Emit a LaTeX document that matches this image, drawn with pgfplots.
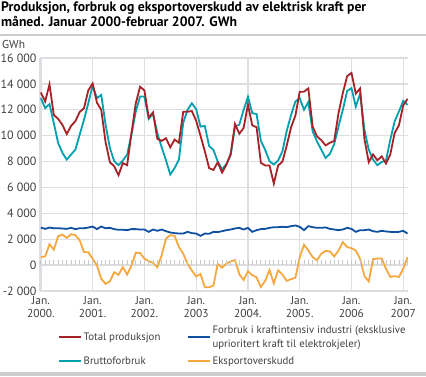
\documentclass[border=0pt]{standalone}
\usepackage{fontspec}
\setmainfont{PT Sans}
\usepackage{pgfplots}
\usepackage{pgfplotstable}
\pgfplotsset{compat=1.18}
\definecolor{cred}{RGB}{166,34,38}
\definecolor{cteal}{RGB}{0,160,176}
\definecolor{cblue}{RGB}{16,80,160}
\definecolor{corange}{RGB}{246,168,64}
\definecolor{cgrid}{RGB}{222,222,226}
\definecolor{ctick}{RGB}{200,200,204}
\definecolor{crule}{RGB}{205,205,205}
\pgfplotstableread{
m R T B O
0 13330 12900 2900 620
1 12650 12130 2800 675
2 13960 12440 2900 1610
3 11600 10970 2850 1190
4 11300 9440 2850 2230
5 10830 8670 2830 2360
6 10120 8150 2800 2100
7 10750 8540 2880 2390
8 11120 8920 2780 2310
9 11830 10080 2850 1920
10 12120 11230 2850 1010
11 13500 12510 2900 990
12 14030 13870 2980 490
13 12550 12900 2780 -30
14 12000 13150 2980 -1060
15 9500 10850 2850 -1450
16 7950 9050 2880 -1250
17 7630 8030 2780 -550
18 6950 7720 2730 -750
19 7880 8080 2730 -160
20 7720 8540 2700 -730
21 10200 10080 2780 -30
22 12500 11870 2780 960
23 13780 13030 2750 935
24 13500 13030 2750 490
25 11400 11300 2570 310
26 11800 11700 2750 180
27 9750 10200 2650 -160
28 9600 9100 2750 750
29 9800 8100 2620 2050
30 9100 7000 2520 2310
31 9700 7500 2470 2260
32 9450 8150 2440 1400
33 11850 11000 2440 880
34 11850 12000 2570 100
35 11900 12500 2470 -420
36 11150 12050 2440 -880
37 10000 10700 2260 -680
38 8800 10750 2440 -1710
39 7500 9200 2420 -1710
40 7350 8900 2570 -1580
41 7950 8000 2550 100
42 7150 7400 2620 -200
43 7750 7800 2700 130
44 8600 8500 2750 270
45 10900 10700 2830 400
46 10150 10850 2880 -700
47 10600 12000 2750 -1150
48 12400 13000 2880 -470
49 10800 11740 2570 -780
50 10650 11670 2700 -950
51 7900 9600 2780 -1690
52 7700 8900 2800 -1220
53 7700 8030 2880 -380
54 6300 7770 2930 -1400
55 7700 8080 2930 -400
56 8000 8800 2960 -730
57 9250 10380 2930 -1220
58 10650 11600 3010 -1080
59 11550 12640 3060 -980
60 13400 12900 2960 600
61 13400 12000 2700 1570
62 13650 12600 3010 1130
63 10700 10330 2930 620
64 9950 9560 2880 360
65 9650 8920 2880 880
66 9250 8280 2910 1100
67 9450 8590 2800 1060
68 9600 9360 2750 670
69 11750 10720 2700 1130
70 13300 12000 2750 1780
71 14600 13460 2880 1390
72 14850 13670 2800 1310
73 13250 12250 2570 1130
74 13650 13250 2700 490
75 9750 10460 2700 -850
76 7950 8920 2750 -1260
77 8550 8150 2620 460
78 8100 7720 2570 510
79 8400 7970 2650 510
80 7850 8080 2600 -280
81 8550 9690 2570 -920
82 10200 11100 2550 -850
83 10800 11870 2570 -920
84 12350 12690 2650 -280
85 12850 12380 2440 620
}\data
\begin{document}
\begin{tikzpicture}
\useasboundingbox (0,0) rectangle (426pt,376pt);
\fill[crule] (0,340.5pt) rectangle (426pt,342.5pt);
\fill[crule] (0,0) rectangle (426pt,4pt);
\node[anchor=north west, align=left, inner sep=0, font=\bfseries\fontsize{13.7}{14.5}\selectfont] at (1pt,374pt) {Produksjon, forbruk og eksportoverskudd av elektrisk kraft per\\måned. Januar 2000-februar 2007. GWh};
\node[anchor=base west, inner sep=0, font=\fontsize{11.5}{13}\selectfont, text=black!75] at (2pt,328pt) {GWh};
\begin{axis}[
  at={(40pt,85pt)}, anchor=south west,
  scale only axis, width=368pt, height=233pt,
  xmin=-0.2, xmax=85.1, ymin=-2000, ymax=16000,
  scaled ticks=false,
  axis x line*=bottom, axis y line*=left,
  x axis line style={draw=none},
  y axis line style={draw=cgrid, line width=2pt},
  major tick length=0pt,
  xtick={0,12,...,84},
  xticklabels={{Jan.\\2000.},{Jan.\\2001.},{Jan.\\2002.},{Jan.\\2003},{Jan.\\2004.},{Jan.\\2005.},{Jan.\\2006},{Jan.\\2007}},
  xticklabel style={align=center, font=\fontsize{11.5}{13}\selectfont, text=black!75, yshift=-2pt},
  ytick={-2000,0,2000,4000,6000,8000,10000,12000,14000,16000},
  yticklabels={-2 000,0,2 000,4 000,6 000,8 000,10 000,12 000,14 000,16 000},
  yticklabel style={font=\fontsize{12}{13}\selectfont, text=black!75, xshift=0pt},
  grid=major, major grid style={draw=cgrid, line width=1.3pt},
  legend style={at={(axis description cs:0.04,-0.13)}, anchor=north west, draw=none, fill=none,
    font=\fontsize{10.8}{14}\selectfont, text=black!75, cells={anchor=west, align=left},
    /tikz/every even column/.append style={column sep=4pt}, row sep=4pt},
  legend columns=2,
  legend image code/.code={\draw[#1] (0pt,0pt) -- (22pt,0pt);},
]
\addlegendimage{cred, line width=1.8pt}\addlegendentry{\makebox[97pt][l]{Total produksjon}}
\addlegendimage{cblue, line width=1.8pt}\addlegendentry{Forbruk i kraftintensiv industri (eksklusive\\uprioritert kraft til elektrokjeler)}
\addlegendimage{cteal, line width=1.8pt}\addlegendentry{\makebox[97pt][l]{Bruttoforbruk}}
\addlegendimage{corange, line width=1.8pt}\addlegendentry{Eksportoverskudd}
\addplot[cteal, line width=1.8pt, forget plot] table[x=m, y=T] {\data};
\addplot[cred, line width=1.8pt, forget plot] table[x=m, y=R] {\data};
\addplot[cblue, line width=1.8pt, forget plot] table[x=m, y=B] {\data};
\addplot[corange, line width=1.8pt, forget plot] table[x=m, y=O] {\data};
\end{axis}
\begin{axis}[
  at={(40pt,85pt)}, anchor=south west,
  scale only axis, width=368pt, height=233pt,
  xmin=-0.2, xmax=85.1, ymin=-2000, ymax=16000,
  scaled ticks=false,
  axis x line=middle, axis y line=none,
  x axis line style={draw=none, -},
  xtick={0,1,...,85}, xticklabels={},
  ytick=\empty,
  xtick align=inside, major tick length=5pt,
  every tick/.style={draw=ctick, line width=0.8pt},
  xtick style={draw=ctick, line width=0.8pt},
]
\end{axis}
\end{tikzpicture}
\end{document}
